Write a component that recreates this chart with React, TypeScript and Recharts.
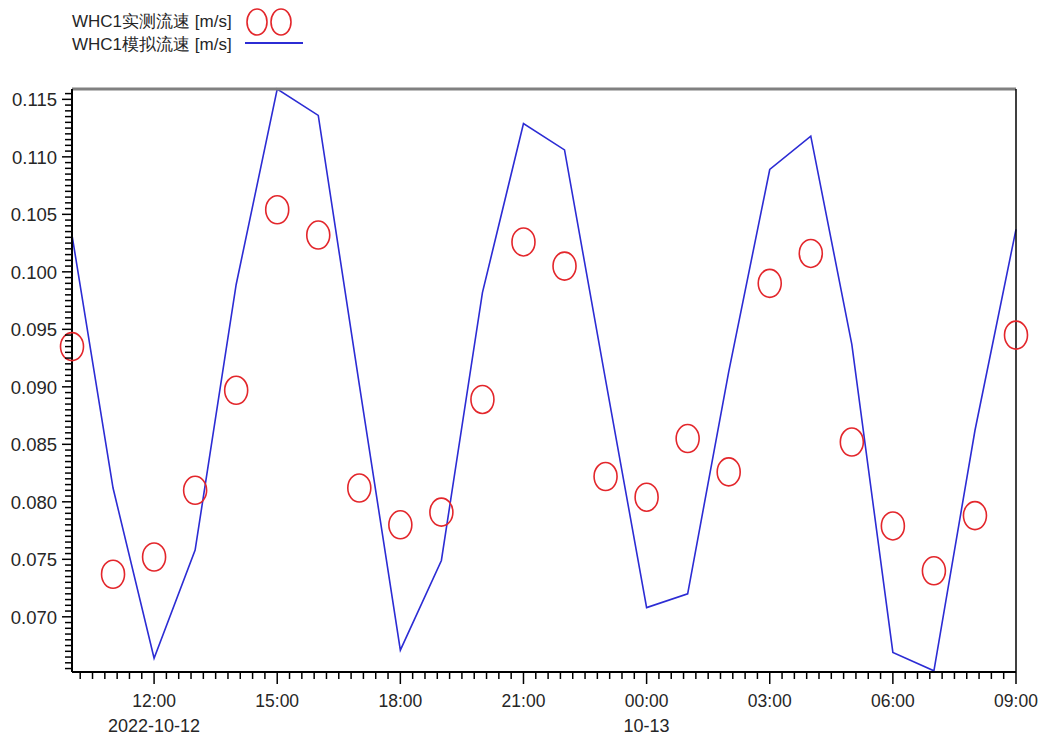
import React from 'react';
import { ComposedChart, Line, XAxis, YAxis } from 'recharts';

const times = ['10:00','11:00','12:00','13:00','14:00','15:00','16:00','17:00','18:00','19:00','20:00','21:00','22:00','23:00','00:00','01:00','02:00','03:00','04:00','05:00','06:00','07:00','08:00','09:00'];
const observed = [0.0935,0.0737,0.0752,0.0810,0.0897,0.1054,0.1032,0.0812,0.0780,0.0791,0.0889,0.1026,0.1005,0.0822,0.0804,0.0855,0.0826,0.0990,0.1016,0.0852,0.0779,0.0740,0.0788,0.0945];
const simulated = [0.1032,0.0812,0.0664,0.0758,0.0989,0.1159,0.1136,0.0902,0.0671,0.0749,0.0982,0.1129,0.1106,0.0906,0.0708,0.0720,0.0913,0.1089,0.1118,0.0937,0.0669,0.0653,0.0862,0.1037];

const xMajorHours = [2, 5, 8, 11, 14, 17, 20, 23];
const xMajorLabels = ['12:00','15:00','18:00','21:00','00:00','03:00','06:00','09:00'];
const xMajorDates = ['2022-10-12','','','','10-13','','',''];
const yMajorTicks = [0.070,0.075,0.080,0.085,0.090,0.095,0.100,0.105,0.110,0.115];
const yMajorLabels = ['0.070','0.075','0.080','0.085','0.090','0.095','0.100','0.105','0.110','0.115'];

const xDomain = [0, 23];
const yDomain = [0.0652, 0.1159];

const xMinorTicks: number[] = [];
for (let k = 0; k <= 76; k++) xMinorTicks.push(Math.round((0.2 + k * 0.3) * 1000) / 1000);
const yMinorTicks: number[] = [];
for (let k = 0; k <= 100; k++) yMinorTicks.push(Math.round((0.0655 + k * 0.0005) * 100000) / 100000);

const data = times.map((time, i) => ({ t: i, time, obs: observed[i], sim: simulated[i] }));

const FONT = '"Liberation Sans", Arial, sans-serif';
const TXT = '#262626';
const RED = '#e3262b';
const BLUE = '#2c2cd4';

const XTick = (props: any) => {
  const { x, y, payload } = props;
  const v = payload.value;
  const idx = xMajorHours.findIndex((h) => Math.abs(h - v) < 1e-6);
  const major = idx >= 0;
  return (
    <g>
      <line x1={x} x2={x} y1={y} y2={y + (major ? 12 : 7)} stroke="#000" strokeWidth={1.5} />
      {major && (
        <text x={x} y={y + 35} textAnchor="middle" fontFamily={FONT} fontSize={17.5} fill={TXT}>
          {xMajorLabels[idx]}
        </text>
      )}
      {major && xMajorDates[idx] && (
        <text x={x} y={y + 60} textAnchor="middle" fontFamily={FONT} fontSize={18} fill={TXT}>
          {xMajorDates[idx]}
        </text>
      )}
    </g>
  );
};

const YTick = (props: any) => {
  const { x, y, payload } = props;
  const v = payload.value;
  const idx = yMajorTicks.findIndex((t) => Math.abs(t - v) < 1e-7);
  const major = idx >= 0;
  return (
    <g>
      <line x1={x - (major ? 10 : 7)} x2={x} y1={y} y2={y} stroke="#000" strokeWidth={1.5} />
      {major && (
        <text x={x - 15} y={y + 7} textAnchor="end" fontFamily={FONT} fontSize={18.5} fill={TXT}>
          {yMajorLabels[idx]}
        </text>
      )}
    </g>
  );
};

const Ring = (props: any) => {
  const { cx, cy, index } = props;
  if (cx == null || cy == null) return null;
  return <ellipse key={`r-${index}`} cx={cx} cy={cy} rx={11.5} ry={14} fill="none" stroke={RED} strokeWidth={1.6} />;
};

export default function App() {
  return (
    <div style={{ position: 'absolute', left: 0, top: 0, width: 1046, height: 746, background: '#fff' }}>
      <ComposedChart
        width={1046}
        height={746}
        data={data}
        margin={{ top: 88, right: 29, bottom: 14, left: 12 }}
      >
        <XAxis
          dataKey="t"
          type="number"
          domain={xDomain}
          ticks={xMinorTicks}
          interval={0}
          height={60}
          tickSize={0}
          tickMargin={0}
          axisLine={{ stroke: '#000', strokeWidth: 2 }}
          tickLine={false}
          tick={<XTick />}
        />
        <XAxis
          xAxisId="top"
          orientation="top"
          type="number"
          domain={xDomain}
          height={1}
          axisLine={{ stroke: '#808080', strokeWidth: 3 }}
          tick={false}
          tickLine={false}
        />
        <YAxis
          type="number"
          domain={yDomain}
          ticks={yMinorTicks}
          interval={0}
          width={60}
          tickSize={0}
          tickMargin={0}
          axisLine={{ stroke: '#000', strokeWidth: 2 }}
          tickLine={false}
          tick={<YTick />}
        />
        <YAxis
          yAxisId="right"
          orientation="right"
          type="number"
          domain={yDomain}
          width={1}
          axisLine={{ stroke: '#000', strokeWidth: 1.5 }}
          tick={false}
          tickLine={false}
        />
        <Line
          dataKey="sim"
          stroke={BLUE}
          strokeWidth={1.6}
          dot={false}
          activeDot={false}
          isAnimationActive={false}
          type="linear"
        />
        <Line
          dataKey="obs"
          stroke="none"
          strokeWidth={0}
          dot={<Ring />}
          activeDot={false}
          isAnimationActive={false}
          type="linear"
        />
      </ComposedChart>
      <div style={{ position: 'absolute', left: 72, top: 10, fontFamily: FONT, fontSize: 17, color: TXT, lineHeight: '23px', whiteSpace: 'nowrap' }}>
        <div>WHC1实测流速 [m/s]</div>
        <div>WHC1模拟流速 [m/s]</div>
      </div>
      <svg style={{ position: 'absolute', left: 240, top: 0 }} width={70} height={60}>
        <ellipse cx={17} cy={22} rx={10} ry={13} fill="none" stroke={RED} strokeWidth={1.6} />
        <ellipse cx={41} cy={22} rx={10} ry={13} fill="none" stroke={RED} strokeWidth={1.6} />
        <line x1={5} x2={63} y1={43} y2={43} stroke={BLUE} strokeWidth={2} />
      </svg>
    </div>
  );
}
